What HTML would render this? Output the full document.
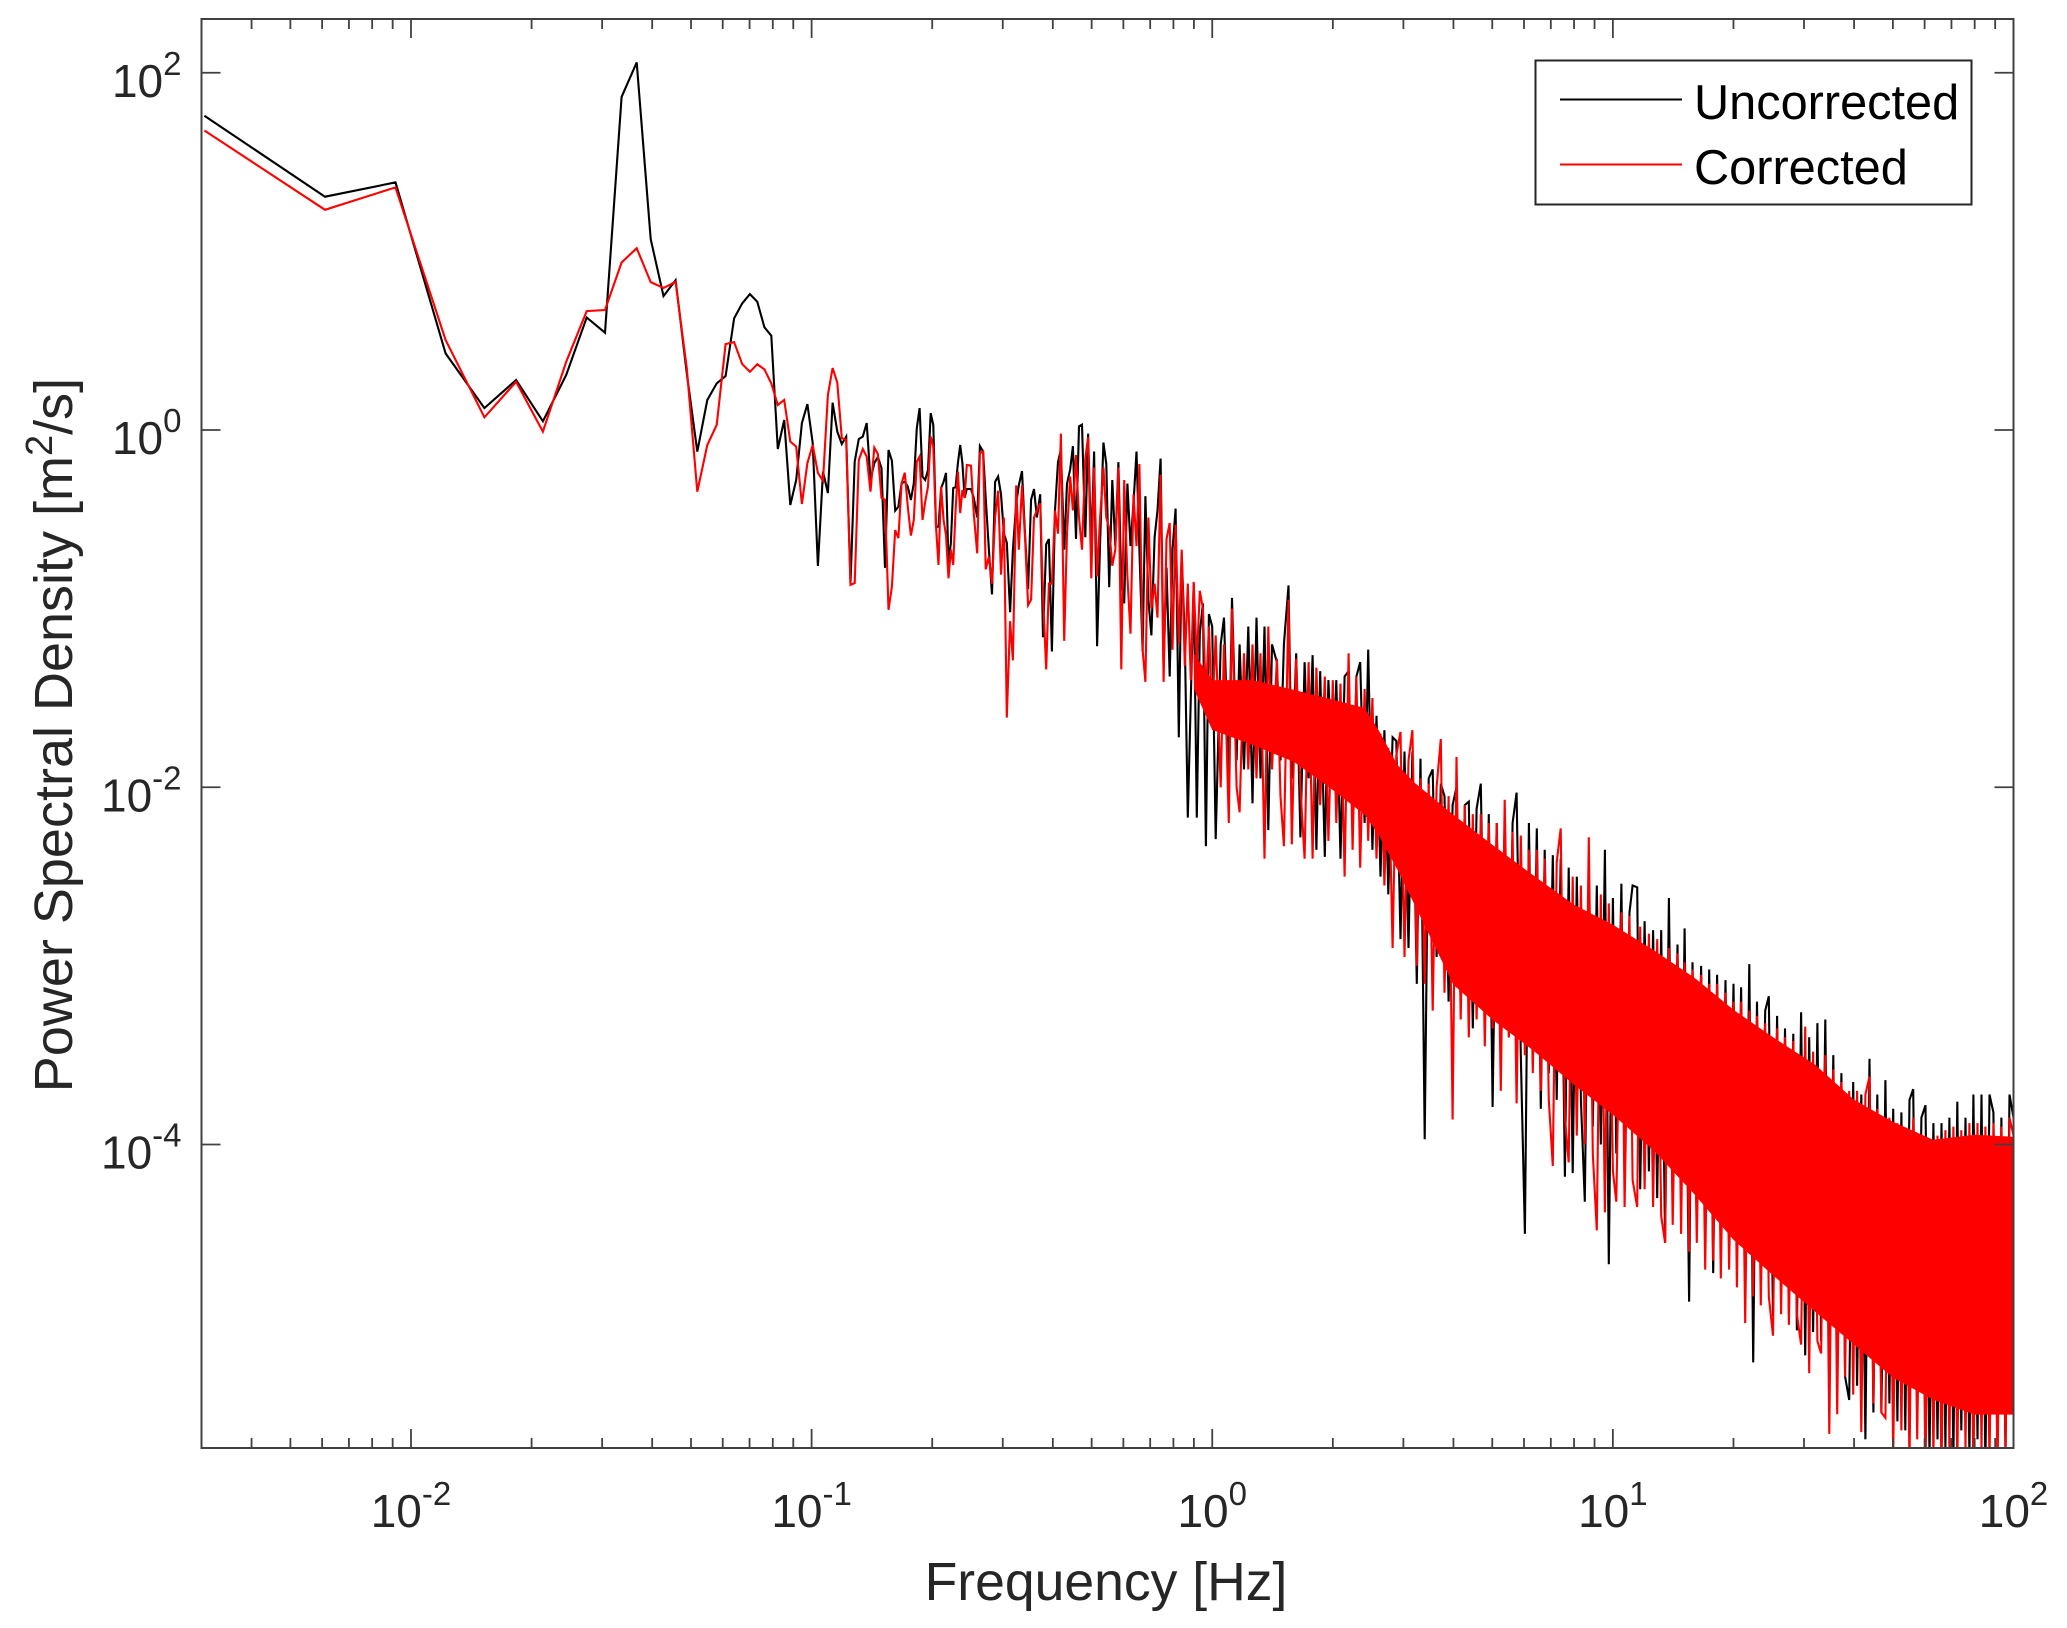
<!DOCTYPE html>
<html lang="en">
<head>
<meta charset="utf-8">
<title>Power Spectral Density</title>
<style>
  html, body { margin: 0; padding: 0; background: #fff; }
  svg { display: block; }
  text { font-family: "Liberation Sans", Arial, sans-serif; }
</style>
</head>
<body>
<svg id="chart" xmlns="http://www.w3.org/2000/svg" width="2067" height="1628" viewBox="0 0 2067 1628">
  <defs>
    <clipPath id="plot-clip"><rect x="201.5" y="19" width="1812" height="1429"></rect></clipPath>
  </defs>
  <rect x="0" y="0" width="2067" height="1628" fill="#fff"></rect>
  <g id="series-layer" clip-path="url(#plot-clip)"></g>
  <rect x="201.5" y="19" width="1812" height="1429" fill="none" stroke="#404040" stroke-width="2"></rect>
  <g id="tick-layer"></g>
  <text x="1106" y="1600" font-size="53.5" fill="#262626" text-anchor="middle">Frequency [Hz]</text>
  <text transform="translate(72 735) rotate(-90)" font-size="54" fill="#262626" text-anchor="middle">Power Spectral Density [m<tspan font-size="38" dy="-20">2</tspan><tspan dy="20">/s]</tspan></text>
  <g>
    <rect x="1535.5" y="60.5" width="436" height="144" fill="#fff" stroke="#262626" stroke-width="2"></rect>
    <line x1="1560" y1="99.5" x2="1682" y2="99.5" stroke="#000" stroke-width="2"></line>
    <text x="1694" y="119" font-size="48.7" fill="#000">Uncorrected</text>
    <line x1="1560" y1="164.5" x2="1682" y2="164.5" stroke="#f00" stroke-width="2"></line>
    <text x="1694" y="184" font-size="48.7" fill="#000">Corrected</text>
  </g>
</svg>
<script>
// Axis limits and ticks
const xLimits = [0.003, 100];
const yLimits = [2e-6, 200];
const xTickExponents = [-2, -1, 0, 1, 2];
const yTickExponents = [-4, -2, 0, 2];
const xMinorDecades = [-3, -2, -1, 0, 1];
const xMinorMultiples = [2, 3, 4, 5, 6, 7, 8, 9];

// Frequency in Hz shared by both spectra
const freqHz = [
0.00305,0.0061,0.00915,0.0122,0.01525,0.0183,0.02135,0.0244,0.02745,0.0305,
0.03355,0.0366,0.03965,0.0427,0.04575,0.0488,0.05185,0.0549,0.05795,0.061,
0.06405,0.0671,0.07015,0.0732,0.07625,0.0793,0.08235,0.0854,0.08845,0.0915,
0.09455,0.0976,0.10065,0.1037,0.10675,0.1098,0.11285,0.1159,0.11895,0.122,
0.12505,0.1281,0.13115,0.1342,0.13725,0.1403,0.14335,0.1464,0.14945,0.1525,
0.15555,0.1586,0.16165,0.1647,0.16775,0.1708,0.17385,0.1769,0.17995,0.183,
0.18605,0.1891,0.19215,0.1952,0.19825,0.2013,0.20435,0.2074,0.21045,0.2135,
0.21655,0.2196,0.22265,0.2257,0.22875,0.2318,0.23485,0.2379,0.24095,0.244,
0.25,0.254,0.259,0.263,0.268,0.272,0.277,0.282,0.287,0.292,
0.297,0.302,0.307,0.313,0.318,0.324,0.329,0.335,0.341,0.347,
0.353,0.359,0.365,0.372,0.378,0.385,0.391,0.398,0.405,0.412,
0.419,0.427,0.434,0.442,0.449,0.457,0.465,0.473,0.482,0.49,
0.499,0.507,0.516,0.525,0.535,0.544,0.553,0.563,0.573,0.583,
0.593,0.603,0.614,0.625,0.636,0.647,0.658,0.67,0.681,0.693,
0.705,0.718,0.73,0.743,0.756,0.769,0.783,0.796,0.81,0.825,
0.839,0.854,0.869,0.884,0.899,0.915,0.931,0.948,0.964,0.981,
1,1.02,1.05,1.07,1.1,1.12,1.15,1.17,1.2,1.23,
1.26,1.29,1.32,1.35,1.38,1.41,1.45,1.48,1.51,1.55,
1.58,1.62,1.66,1.7,1.74,1.78,1.82,1.86,1.91,1.95,
2,2.04,2.09,2.14,2.19,2.24,2.29,2.34,2.4,2.45,
2.51,2.57,2.63,2.69,2.75,2.82,2.88,2.95,3.02,3.09,
3.16,3.24,3.31,3.39,3.47,3.55,3.63,3.72,3.8,3.89,
3.98,4.07,4.17,4.27,4.37,4.47,4.57,4.68,4.79,4.9,
5.01,5.13,5.25,5.37,5.5,5.62,5.75,5.89,6.03,6.17,
6.31,6.46,6.61,6.76,6.92,7.08,7.24,7.41,7.59,7.76,
7.94,8.13,8.32,8.51,8.71,8.91,9.12,9.33,9.55,9.77,
10,10.2,10.5,10.7,11,11.2,11.5,11.7,12,12.3,
12.6,12.9,13.2,13.5,13.8,14.1,14.5,14.8,15.1,15.5,
15.8,16.2,16.6,17,17.4,17.8,18.2,18.6,19.1,19.5,
20,20.4,20.9,21.4,21.9,22.4,22.9,23.4,24,24.5,
25.1,25.7,26.3,26.9,27.5,28.2,28.8,29.5,30.2,30.9,
31.6,32.4,33.1,33.9,34.7,35.5,36.3,37.2,38,38.9,
39.8,40.7,41.7,42.7,43.7,44.7,45.7,46.8,47.9,49,
50.1,51.3,52.5,53.7,55,56.2,57.5,58.9,60.3,61.7,
63.1,64.6,66.1,67.6,69.2,70.8,72.4,74.1,75.9,77.6,
79.4,81.3,83.2,85.1,87.1,89.1,91.2,93.3,95.5,97.7,
100
];

// log10 of PSD [m^2/s], uncorrected spectrum
const uncorrectedLog10 = [
1.759,1.306,1.386,.429,.123,.28,.049,.308,.63,.545,
1.865,2.058,1.069,.75,.839,.317,-.121,.168,.261,.302,
.625,.709,.761,.718,.575,.528,-.106,.056,-.42,-.28,
.039,.145,-.073,-.761,-.233,-.353,.153,-.009,-.078,-.037,
-.857,-.177,-.05,-.037,.039,-.28,-.185,-.151,-.213,-.772,
-.112,-.172,-.451,-.429,-.298,-.289,-.317,-.392,-.298,.011,
.123,-.261,-.28,-.224,.095,.028,-.541,-.541,-.325,-.29,
-.24,-.745,-.63,-.325,-.32,-.185,-.084,-.185,-.38,-.33,
-.33,-.38,-.49,-.09,-.12,-.38,-.67,-.92,-.29,-.26,
-.36,-.58,-.63,-1.02,-.67,-.41,-.31,-.23,-.58,-.89,
-.39,-.33,-.49,-.36,-1.16,-.64,-.61,-1.24,-.45,-.18,
-.11,-.67,-.3,-.22,-.09,-.61,.02,.03,-.6,-.02,
-.67,-.12,-1.21,-.63,-.07,-.19,-.88,-.28,-.65,-.18,
-.86,-.97,-.3,-.65,-.41,-.12,-.67,-1.24,-.37,-.95,
-1.15,-.6,-.45,-.16,-1.32,-.77,-1.38,-.67,-.44,-1.72,
-.69,-1.17,-2.17,-1.5,-.86,-2.17,-1.14,-.97,-2.33,-1.03,
-1.1,-2.29,-1.2,-1.05,-1.95,-.94,-1.85,-1.2,-1.9,-1.1,
-2.09,-1.05,-1.95,-1.1,-2.24,-1.2,-1.3,-1.85,-1.2,-.87,
-1.95,-1.25,-2.28,-1.3,-1.95,-1.26,-2.35,-1.35,-2.39,-1.4,
-2,-1.4,-2.4,-1.38,-1.35,-2.2,-1.38,-1.3,-2.2,-1.23,
-2.35,-1.6,-2.5,-1.68,-2.6,-1.72,-1.74,-2.85,-1.8,-2.9,
-1.8,-3.1,-1.84,-3.97,-1.95,-1.9,-2.95,-1.98,-2.05,-3.2,
-2.1,-2,-3.2,-2.1,-2.08,-3.35,-2.12,-1.98,-3.3,-2.15,
-3.79,-2.2,-3.3,-2.2,-3.4,-2.2,-2.03,-3.5,-4.5,-2.2,
-3.55,-2.23,-3.8,-2.35,-3.6,-2.38,-3.75,-2.4,-4.18,-2.45,
-4.16,-2.5,-3.75,-4.32,-2.5,-3.9,-2.55,-4,-2.35,-4.67,
-2.62,-4.05,-2.54,-4.15,-2.7,-2.55,-2.56,-4.25,-2.75,-4.15,
-2.8,-4.3,-2.8,-4.55,-2.62,-4.35,-2.88,-4.3,-2.79,-4.88,
-2.98,-4.45,-3,-4.55,-3.02,-4.72,-3.05,-4.6,-3.08,-4.6,
-3.1,-4.55,-3.12,-4.75,-2.99,-5.22,-3.2,-4.8,-3.25,-3.17,
-4.96,-3.28,-4.85,-3.35,-4.95,-3.38,-5.04,-3.26,-5.18,-3.4,
-5.05,-3.32,-5.1,-3.3,-5.2,-3.5,-5.25,-3.6,-5.3,-5.43,
-3.65,-5.35,-3.72,-5.65,-3.52,-5.5,-3.72,-5.5,-3.64,-5.45,
-3.8,-5.55,-3.82,-5.6,-3.75,-3.69,-5.55,-3.85,-3.78,-5.75,
-3.88,-5.65,-3.88,-5.7,-3.85,-5.75,-3.76,-5.6,-3.85,-5.75,
-3.72,-5.65,-3.72,-5.8,-3.72,-3.82,-5.6,-3.85,-5.75,-3.72,
-3.85
];

// log10 of PSD [m^2/s], corrected spectrum
const correctedLog10 = [
1.677,1.233,1.358,.504,.071,.27,-.009,.382,.666,.672,
.938,1.018,.828,.795,.83,.345,-.345,-.084,.028,.481,
.492,.369,.326,.368,.34,.261,.14,.168,-.065,-.093,
-.414,-.185,-.084,-.24,-.284,.196,.347,.265,-.045,-.056,
-.867,-.857,-.168,-.106,-.149,-.345,-.099,-.134,-.38,-.39,
-1.007,-.877,-.56,-.605,-.298,-.239,-.429,-.591,-.504,-.177,
-.149,-.504,-.401,-.317,-.037,-.093,-.541,-.755,-.317,-.504,
-.59,-.83,-.67,-.755,-.448,-.233,-.465,-.336,-.38,-.196,
-.2,-.47,-.69,-.13,-.12,-.78,-.71,-.86,-.49,-.34,
-.81,-.49,-1.61,-1.07,-1.29,-.31,-.67,-.31,-.6,-.98,
-.95,-.49,-.45,-.41,-.93,-1.34,-.86,-.86,-.45,-.58,
-.02,-1.18,-.58,-.26,-.45,-.14,-.49,-.67,-.16,-.04,
-.83,-.21,-.82,-.49,-.21,-.49,-.55,-.76,-.67,-.21,
-1.34,-.28,-.82,-1.14,-.36,-.65,-.19,-1.23,-1.41,-.49,
-1,-.86,-1.05,-.25,-1.41,-.61,-.52,-1.23,-.53,-1.2,
-.67,-1.32,-.86,-1.4,-.85,-1.3,-.9,-1,-1.5,-1.1,
-1.6,-1.15,-2,-1.2,-2.2,-1,-2,-2.14,-1.25,-1.9,
-1.2,-1.95,-1.25,-2.4,-1.1,-1.9,-1.28,-2.05,-2.33,-.95,
-2.32,-1.28,-2,-2.4,-1.3,-2.4,-1.33,-2.1,-1.38,-2.3,
-1.4,-2.2,-1.42,-2.5,-1.25,-2.35,-1.38,-2.45,-1.45,-2.3,
-1.5,-2.4,-1.7,-2.55,-1.78,-2.9,-1.82,-1.69,-2.95,-1.85,
-1.68,-3,-1.95,-3.1,-1.98,-3.25,-2,-1.73,-3.15,-2.05,
-3.86,-1.83,-3.3,-2.1,-3.4,-2.15,-3.3,-2.15,-3.45,-2.2,
-3.35,-2.2,-3.7,-2.07,-3.4,-2.25,-3.77,-2.27,-3.5,-2.35,
-3.6,-2.35,-3.7,-2.4,-3.75,-4.12,-2.42,-2.23,-3.85,-4.1,
-2.5,-3.95,-2.55,-4,-2.28,-4.05,-4.48,-2.6,-4.38,-2.65,
-4.15,-4.32,-2.7,-4.35,-2.72,-4.2,-4.35,-2.78,-4.25,-2.82,
-4.35,-2.85,-4.4,-4.55,-2.9,-4.45,-2.93,-4.5,-2.98,-4.6,
-3.02,-4.55,-3.05,-4.7,-3.1,-4.65,-3.1,-4.75,-3.15,-4.7,
-3.2,-4.8,-3.2,-5,-3.25,-4.85,-3.28,-4.9,-3.32,-4.85,
-5.07,-3.35,-4.95,-3.4,-5.01,-3.42,-4.95,-5.12,-3.34,-5.28,
-3.48,-5.1,-5.17,-3.5,-5.62,-3.58,-5.51,-3.65,-5.3,-3.7,
-5.4,-3.7,-5.61,-3.72,-3.62,-5.45,-3.8,-5.5,-5.53,-3.85,
-5.75,-3.88,-5.6,-3.92,-5.8,-3.85,-5.65,-3.95,-5.85,-3.98,
-5.75,-3.95,-5.85,-3.92,-5.7,-3.9,-5.8,-3.92,-5.7,-3.88,
-5.85,-3.88,-5.7,-3.9,-5.8,-3.88,-5.85,-3.9,-5.7,-3.85,
-3.95
];

// Solid part of the corrected spectrum's noise band: frequency and log10 PSD limits
const bandFreqHz = [0.9,1,1.26,1.6,2,2.4,2.6,2.9,3.2,4,5,6.3,8,10,12.6,16,20,25,32,40,50,63,80,100];
const bandUpperLog10 = [-1.25,-1.4,-1.4,-1.455,-1.51,-1.556,-1.679,-1.875,-1.975,-2.154,-2.322,-2.49,-2.658,-2.77,-2.91,-3.067,-3.246,-3.397,-3.553,-3.749,-3.872,-3.973,-3.945,-3.956];
const bandLowerLog10 = [-1.45,-1.679,-1.763,-1.858,-2.015,-2.154,-2.266,-2.462,-2.658,-3.106,-3.3,-3.47,-3.665,-3.833,-4.03,-4.28,-4.533,-4.729,-4.936,-5.12,-5.305,-5.428,-5.512,-5.512];

const SVG_NS = 'http://www.w3.org/2000/svg';
const plotLeft = 201.5, plotRight = 2013.5, plotTop = 19, plotBottom = 1448;

function xScale(hz) {
  const lo = Math.log10(xLimits[0]), hi = Math.log10(xLimits[1]);
  return plotLeft + (Math.log10(hz) - lo) / (hi - lo) * (plotRight - plotLeft);
}
function yScale(psd) {
  const lo = Math.log10(yLimits[0]), hi = Math.log10(yLimits[1]);
  return plotBottom - (Math.log10(psd) - lo) / (hi - lo) * (plotBottom - plotTop);
}
function make(tag, attrs) {
  const el = document.createElementNS(SVG_NS, tag);
  for (const key in attrs) el.setAttribute(key, attrs[key]);
  return el;
}
function seriesPoints(freqs, logs) {
  const pts = [];
  for (let i = 0; i < freqs.length; i++) {
    pts.push(xScale(freqs[i]).toFixed(1) + ',' + yScale(Math.pow(10, logs[i])).toFixed(1));
  }
  return pts;
}

const seriesLayer = document.getElementById('series-layer');
const tickLayer = document.getElementById('tick-layer');

// Uncorrected spectrum (underneath)
const uncorrectedLine = make('polyline', {
  points: seriesPoints(freqHz, uncorrectedLog10).join(' '),
  fill: 'none', stroke: '#000', 'stroke-width': 2.1, 'stroke-linejoin': 'miter'
});


seriesLayer.appendChild(uncorrectedLine);

// Solid noise band of corrected spectrum
const bandPoints = seriesPoints(bandFreqHz, bandUpperLog10)
  .concat(seriesPoints(bandFreqHz, bandLowerLog10).reverse());
const correctedBand = make('polygon', { points: bandPoints.join(' '), fill: '#f00' });


seriesLayer.appendChild(correctedBand);

// Corrected spectrum (on top)
const correctedLine = make('polyline', {
  points: seriesPoints(freqHz, correctedLog10).join(' '),
  fill: 'none', stroke: '#f00', 'stroke-width': 2.1, 'stroke-linejoin': 'miter'
});


seriesLayer.appendChild(correctedLine);

// X ticks
xMinorDecades.forEach(function (decade) {
  xMinorMultiples.forEach(function (mult) {
    const hz = mult * Math.pow(10, decade);
    if (hz < xLimits[0] || hz > xLimits[1]) return;
    const x = xScale(hz);
    [[plotBottom, plotBottom - 10], [plotTop, plotTop + 10]].forEach(function (ends) {
      const tick = make('line', { x1: x, x2: x, y1: ends[0], y2: ends[1], stroke: '#404040', 'stroke-width': 1.8 });
      
      
      tickLayer.appendChild(tick);
    });
  });
});

function tickLabel(x, y, anchor, exponent, name) {
  const label = make('text', { x: x, y: y, 'font-size': 46, fill: '#262626', 'text-anchor': anchor });
  
  
  label.appendChild(document.createTextNode('10'));
  const sup = make('tspan', { 'font-size': 33, dy: -22 });
  
  
  sup.textContent = String(exponent);
  label.appendChild(sup);
  tickLayer.appendChild(label);
}

xTickExponents.forEach(function (exp) {
  const x = xScale(Math.pow(10, exp));
  [[plotBottom, plotBottom - 19], [plotTop, plotTop + 19]].forEach(function (ends) {
    const tick = make('line', { x1: x, x2: x, y1: ends[0], y2: ends[1], stroke: '#404040', 'stroke-width': 1.8 });
    
    
    tickLayer.appendChild(tick);
  });
  tickLabel(x, 1527, 'middle', exp, 'x-tick-label');
});

yTickExponents.forEach(function (exp) {
  const y = yScale(Math.pow(10, exp));
  [[plotLeft, plotLeft + 19], [plotRight, plotRight - 19]].forEach(function (ends) {
    const tick = make('line', { x1: ends[0], x2: ends[1], y1: y, y2: y, stroke: '#404040', 'stroke-width': 1.8 });
    
    
    tickLayer.appendChild(tick);
  });
  tickLabel(181.5, y + 24, 'end', exp, 'y-tick-label');
});
</script>
</body>
</html>
